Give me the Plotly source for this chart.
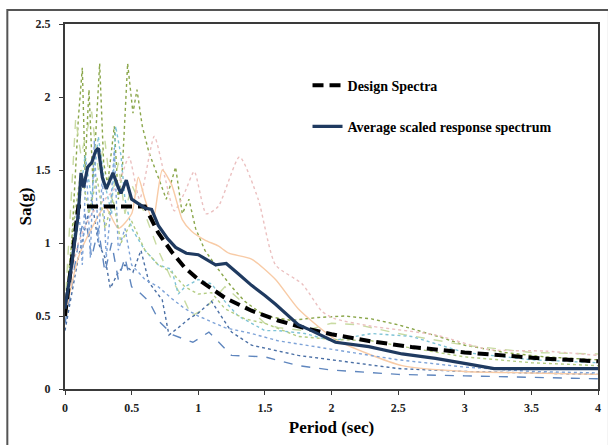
import plotly.graph_objects as go

# ---------------- data ----------------
design_T = [0.0, 0.1, 0.6, 0.7, 0.8, 0.9, 1.0, 1.2, 1.4, 1.6, 1.8, 2.0, 2.3, 2.6, 3.0, 3.3, 3.6, 4.0]
design_Sa = [0.5, 1.25, 1.25, 1.07, 0.94, 0.83, 0.75, 0.625, 0.536, 0.469, 0.417, 0.375, 0.326, 0.288, 0.25, 0.227, 0.208, 0.19]

avg_T = [0.0, 0.05, 0.1, 0.12, 0.14, 0.17, 0.2, 0.23, 0.25, 0.28, 0.31, 0.36, 0.4, 0.42, 0.46, 0.5, 0.55, 0.6,
         0.65, 0.7, 0.77, 0.83, 0.91, 1.0, 1.13, 1.21, 1.3, 1.4, 1.5, 1.58, 1.75, 1.85, 2.03, 2.28, 2.53,
         2.78, 3.03, 3.22, 3.52, 4.0]
avg_Sa = [0.55, 0.85, 1.2, 1.48, 1.38, 1.52, 1.55, 1.63, 1.65, 1.45, 1.37, 1.48, 1.38, 1.34, 1.43, 1.3, 1.27, 1.24,
          1.23, 1.12, 1.03, 0.97, 0.93, 0.92, 0.85, 0.86, 0.79, 0.71, 0.64, 0.58, 0.44, 0.40, 0.32, 0.29, 0.24,
          0.21, 0.17, 0.14, 0.14, 0.14]

# individual scaled records
r1_T = [0.0, 0.05, 0.1, 0.13, 0.15, 0.18, 0.21, 0.26, 0.29, 0.32, 0.37, 0.4, 0.43, 0.47, 0.51, 0.54, 0.58, 0.63,
        0.7, 0.76, 0.83, 0.88, 0.93, 0.98, 1.05, 1.15, 1.25, 1.35, 1.5, 1.7, 1.9, 2.1, 2.3, 2.5, 2.8, 3.0,
        3.3, 3.6, 4.0]
r1_Sa = [0.5, 1.0, 1.85, 2.2, 1.5, 2.05, 1.4, 2.23, 1.55, 1.4, 1.8, 1.3, 1.5, 2.23, 1.89, 2.05, 1.8, 1.62,
         1.45, 1.3, 1.52, 1.2, 1.3, 1.1, 0.95, 0.82, 0.7, 0.6, 0.5, 0.47, 0.49, 0.5, 0.48, 0.44,
         0.36, 0.3, 0.25, 0.22, 0.2]

r2_T = [0.0, 0.04, 0.08, 0.12, 0.16, 0.2, 0.25, 0.3, 0.35, 0.4, 0.45, 0.5, 0.6, 0.7, 0.8, 0.9, 0.95, 1.05,
        1.2, 1.3, 1.5, 1.6, 1.8, 2.0, 2.2, 2.5, 3.0, 3.5, 4.0]
r2_Sa = [0.55, 1.2, 1.85, 1.6, 1.75, 1.9, 1.5, 1.7, 1.3, 1.55, 1.2, 1.4, 1.2, 0.95, 0.75, 0.6, 0.5, 0.55,
         0.7, 0.62, 0.45, 0.42, 0.4, 0.45, 0.44, 0.38, 0.3, 0.25, 0.24]

r3_T = [0.0, 0.05, 0.1, 0.15, 0.2, 0.25, 0.3, 0.35, 0.38, 0.42, 0.45, 0.5, 0.6, 0.7, 0.8, 0.85, 0.9, 1.0,
        1.1, 1.2, 1.3, 1.4, 1.5, 1.6, 1.8, 2.0, 2.3, 2.6, 3.0, 3.5, 4.0]
r3_Sa = [0.5, 0.8, 1.2, 1.6, 1.3, 1.73, 1.4, 1.2, 1.8, 1.6, 1.3, 1.1, 0.95, 0.85, 0.82, 0.65, 0.7, 0.75,
         0.72, 0.6, 0.5, 0.45, 0.4, 0.4, 0.38, 0.33, 0.38, 0.36, 0.25, 0.2, 0.18]

r4_T = [0.0, 0.05, 0.1, 0.15, 0.2, 0.25, 0.3, 0.34, 0.4, 0.45, 0.51, 0.57, 0.63, 0.73, 0.78, 0.85, 0.93,
        1.0, 1.1, 1.25, 1.4, 1.6, 1.75, 2.0, 2.5, 3.0, 3.5, 4.0]
r4_Sa = [0.4, 0.65, 0.9, 1.1, 1.3, 1.0, 0.9, 0.69, 0.8, 0.85, 0.8, 0.95, 0.73, 0.61, 0.37, 0.42, 0.48,
         0.52, 0.6, 0.39, 0.3, 0.26, 0.23, 0.2, 0.14, 0.12, 0.11, 0.1]

r5_T = [0.0, 0.05, 0.1, 0.15, 0.2, 0.25, 0.3, 0.35, 0.4, 0.45, 0.5, 0.56, 0.63, 0.71, 0.81, 0.96, 1.08,
        1.25, 1.5, 1.75, 2.0, 2.5, 3.0, 3.5, 4.0]
r5_Sa = [0.45, 0.7, 1.0, 1.2, 0.9, 1.1, 0.8, 1.0, 0.75, 0.9, 0.7, 0.66, 0.6, 0.46, 0.37, 0.32, 0.39,
         0.23, 0.22, 0.16, 0.13, 0.1, 0.09, 0.08, 0.07]

r6_T = [0.0, 0.1, 0.2, 0.3, 0.4, 0.48, 0.56, 0.67, 0.75, 0.82, 0.9, 0.97, 1.06, 1.15, 1.31, 1.45, 1.58,
        1.78, 1.93, 2.03, 2.3, 2.78, 3.18, 3.6, 4.0]
r6_Sa = [0.5, 1.0, 1.2, 1.3, 1.4, 1.59, 1.3, 1.73, 1.45, 1.22, 1.35, 1.49, 1.2, 1.25, 1.59, 1.3, 0.85,
         0.72, 0.53, 0.48, 0.43, 0.37, 0.27, 0.26, 0.23]

r7_T = [0.0, 0.1, 0.2, 0.3, 0.4, 0.5, 0.55, 0.6, 0.66, 0.73, 0.8, 0.88, 0.95, 1.05, 1.15, 1.23, 1.4,
        1.58, 1.75, 2.03, 2.53, 3.0, 3.5, 4.0]
r7_Sa = [0.5, 0.9, 1.1, 1.25, 1.1, 1.2, 1.45, 1.3, 1.15, 1.5, 1.4, 1.16, 1.08, 1.02, 0.98, 0.93, 0.89,
         0.75, 0.55, 0.34, 0.16, 0.12, 0.11, 0.1]

r8_T = [0.0, 0.05, 0.1, 0.13, 0.16, 0.19, 0.22, 0.25, 0.28, 0.31, 0.34, 0.37, 0.4, 0.45, 0.5, 0.6, 0.7,
        0.8, 0.9, 1.0, 1.2, 1.4, 1.6, 1.8, 2.0, 2.5, 3.0, 3.5, 4.0]
r8_Sa = [0.6, 0.9, 1.3, 0.85, 1.55, 0.9, 1.7, 1.0, 1.45, 0.9, 1.2, 1.65, 0.95, 1.1, 0.85, 0.75, 0.7,
         0.62, 0.55, 0.5, 0.42, 0.38, 0.33, 0.3, 0.27, 0.2, 0.15, 0.12, 0.11]

r9_T = [0.0, 0.06, 0.12, 0.18, 0.24, 0.3, 0.36, 0.42, 0.5, 0.6, 0.7, 0.8, 0.9, 1.0, 1.1, 1.2, 1.35, 1.5,
        1.75, 2.0, 2.3, 2.6, 3.0, 3.5, 4.0]
r9_Sa = [0.55, 1.1, 1.5, 1.2, 1.45, 1.1, 1.3, 1.0, 1.15, 0.95, 0.85, 0.8, 0.7, 0.65, 0.66, 0.55, 0.48,
         0.45, 0.36, 0.34, 0.33, 0.28, 0.22, 0.18, 0.16]

records = [
    (r1_T, r1_Sa, "#8AA64A", "dot", "linear"),
    (r2_T, r2_Sa, "#C9DBA3", "dash", "linear"),
    (r3_T, r3_Sa, "#7FC3D6", "dot", "linear"),
    (r4_T, r4_Sa, "#4A6FA5", "dot", "linear"),
    (r5_T, r5_Sa, "#5F86BE", "dash", "linear"),
    (r6_T, r6_Sa, "#EBC0C0", "dot", "spline"),
    (r7_T, r7_Sa, "#F8CBA6", "solid", "spline"),
    (r8_T, r8_Sa, "#7EA3D8", "dot", "linear"),
    (r9_T, r9_Sa, "#B3CC82", "dot", "linear"),
]

x_ticks = [0, 0.5, 1, 1.5, 2, 2.5, 3, 3.5, 4]
x_tick_labels = ["0", "0.5", "1", "1.5", "2", "2.5", "3", "3.5", "4"]
y_ticks = [0, 0.5, 1, 1.5, 2, 2.5]
y_tick_labels = ["0", "0.5", "1", "1.5", "2", "2.5"]

# ---------------- figure ----------------
fig = go.Figure()
for T, Sa, col, dash, shape in records:
    fig.add_trace(go.Scatter(x=T, y=Sa, mode="lines", showlegend=False,
                             line=dict(color=col, width=1.4, dash=dash, shape=shape, smoothing=0.6),
                             hoverinfo="skip"))

fig.add_trace(go.Scatter(x=design_T, y=design_Sa, mode="lines", name="Design Spectra",
                         legendgroup="a",
                         line=dict(color="black", width=4, dash="11px,6px")))
fig.add_trace(go.Scatter(x=avg_T, y=avg_Sa, mode="lines", name="Average scaled response spectrum",
                         legendgroup="b",
                         line=dict(color="#1F3A60", width=3.2)))

serif = "Liberation Serif, Times New Roman, serif"
fig.update_layout(
    width=608, height=445,
    margin=dict(l=65, r=7, t=24, b=56),
    paper_bgcolor="white", plot_bgcolor="white",
    font=dict(family=serif, color="black"),
    legend=dict(x=0.455, y=0.875, xanchor="left", yanchor="top",
                bgcolor="rgba(0,0,0,0)", tracegroupgap=20, itemwidth=30,
                font=dict(family=serif, size=14, weight="bold", color="black")),
    xaxis=dict(range=[0, 4], tickvals=x_ticks, ticktext=x_tick_labels,
               showgrid=False, zeroline=False, showline=True, mirror=True,
               linecolor="#3a3a3a", linewidth=2, ticks="outside", ticklen=4, tickcolor="#3a3a3a",
               ticklabelstandoff=3,
               tickfont=dict(family=serif, size=12, weight="bold", color="#222"),
               title=dict(text="Period (sec)", standoff=7,
                          font=dict(family=serif, size=17, weight="bold", color="black"))),
    yaxis=dict(range=[0, 2.5], tickvals=y_ticks, ticktext=y_tick_labels,
               showgrid=False, zeroline=False, showline=True, mirror=True,
               linecolor="#3a3a3a", linewidth=2, ticks="outside", ticklen=4, tickcolor="#3a3a3a",
               ticklabelstandoff=6,
               tickfont=dict(family=serif, size=12, weight="bold", color="#222"),
               title=dict(text="Sa(g)", standoff=0,
                          font=dict(family=serif, size=17, weight="bold", color="black"))),
    shapes=[dict(type="rect", xref="paper", yref="paper",
                 x0=(7 - 65) / 536, x1=(612 - 65) / 536,
                 y0=-(460 - 389) / 365, y1=1 + (24 - 10) / 365,
                 line=dict(color="#555555", width=2), layer="below")],
)

fig.write_html("out.html", config={"displayModeBar": False},
               post_script="document.body.style.margin='0';")
